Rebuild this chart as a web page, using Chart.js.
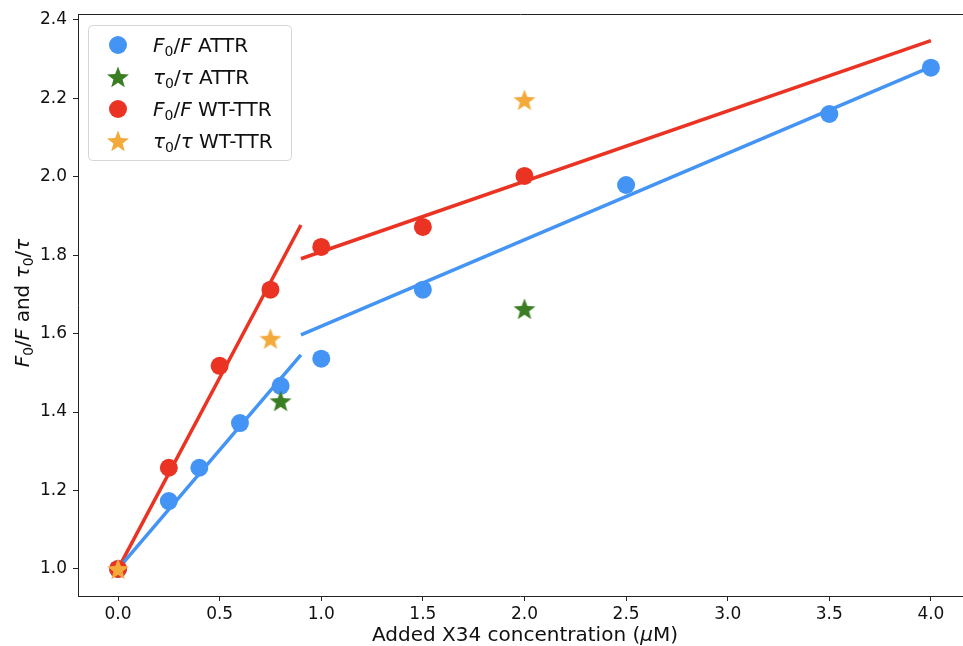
<!DOCTYPE html>
<html>
<head>
<meta charset="utf-8">
<script src="https://cdn.jsdelivr.net/npm/chart.js@4/dist/chart.umd.min.js"></script>
<style>
  html, body { margin: 0; padding: 0; background: #fff; }
  canvas { display: block; }
</style>
</head>
<body>
<canvas id="x34" width="963" height="646"></canvas>
<script>
// F0/F measurements
const attrFx = [0, 0.25, 0.4, 0.6, 0.8, 1.0, 1.5, 2.5, 3.5, 4.0];
const attrF = [1.0, 1.173, 1.258, 1.372, 1.467, 1.536, 1.712, 1.979, 2.160, 2.278];
const wtFx = [0, 0.25, 0.5, 0.75, 1.0, 1.5, 2.0];
const wtF = [1.0, 1.258, 1.518, 1.712, 1.821, 1.872, 2.002];

// tau0/tau measurements
const attrTauX = [0.8, 2.0];
const attrTau = [1.428, 1.663];
const wtTauX = [0, 0.75, 2.0];
const wtTau = [1.0, 1.587, 2.196];

// linear fits, low and high concentration regimes
const attrFitLowX = [0, 0.9];
const attrFitLow = [1.0, 1.546];
const attrFitHighX = [0.9, 4.0];
const attrFitHigh = [1.597, 2.28];
const wtFitLowX = [0, 0.9];
const wtFitLow = [1.0, 1.877];
const wtFitHighX = [0.9, 4.0];
const wtFitHigh = [1.791, 2.347];

const xTicks = [0, 0.5, 1, 1.5, 2, 2.5, 3, 3.5, 4];
const yTicks = [1.0, 1.2, 1.4, 1.6, 1.8, 2.0, 2.2, 2.4];

const BLUE = '#4494f5';
const RED = '#ea3323';
const GREEN = '#3a7d22';
const ORANGE = '#f4a93b';
const FONT = '"DejaVu Sans", sans-serif';

const pts = (xs, ys) => xs.map((x, i) => ({ x: x, y: ys[i] }));

function starPath(ctx, cx, cy, r) {
  const inner = r * 0.42;
  ctx.beginPath();
  for (let i = 0; i < 10; i++) {
    const rad = i % 2 ? inner : r;
    const a = -Math.PI / 2 + i * Math.PI / 5;
    const px = cx + rad * Math.cos(a), py = cy + rad * Math.sin(a);
    i ? ctx.lineTo(px, py) : ctx.moveTo(px, py);
  }
  ctx.closePath();
}

function starImage(color) {
  const c = document.createElement('canvas');
  c.width = 26; c.height = 26;
  const g = c.getContext('2d');
  starPath(g, 13, 14, 11.5);
  g.fillStyle = color;
  g.fill();
  return c;
}

// draw a run of text pieces: {t, it, sub}
function richText(ctx, parts, x, y, size, align) {
  const fontFor = p => (p.it ? 'italic ' : '') + (p.sub ? size * 0.7 : size) + 'px ' + FONT;
  let total = 0;
  parts.forEach(p => { ctx.font = fontFor(p); total += ctx.measureText(p.t).width; });
  let cx = align === 'center' ? x - total / 2 : x;
  ctx.textAlign = 'left';
  ctx.textBaseline = 'alphabetic';
  parts.forEach(p => {
    ctx.font = fontFor(p);
    ctx.fillText(p.t, cx, p.sub ? y + size * 0.22 : y);
    cx += ctx.measureText(p.t).width;
  });
}

const F0F = [{ t: 'F', it: true }, { t: '0', sub: true }, { t: '/' }, { t: 'F', it: true }];
const T0T = [{ t: 'τ', it: true }, { t: '0', sub: true }, { t: '/' }, { t: 'τ', it: true }];

const legendRows = [
  { marker: 'circle', color: BLUE, parts: F0F.concat([{ t: ' ATTR' }]) },
  { marker: 'star', color: GREEN, parts: T0T.concat([{ t: ' ATTR' }]) },
  { marker: 'circle', color: RED, parts: F0F.concat([{ t: ' WT-TTR' }]) },
  { marker: 'star', color: ORANGE, parts: T0T.concat([{ t: ' WT-TTR' }]) }
];

const decorations = {
  id: 'decorations',
  afterDraw(chart) {
    const ctx = chart.ctx;
    const a = chart.chartArea;
    ctx.save();
    // top spine
    ctx.strokeStyle = '#222';
    ctx.lineWidth = 1;
    ctx.beginPath();
    ctx.moveTo(a.left, a.top + 0.5);
    ctx.lineTo(a.right + 1, a.top + 0.5);
    ctx.stroke();

    // legend box
    const bx = 88, by = 25, bw = 203, bh = 135;
    ctx.beginPath();
    ctx.roundRect(bx + 0.5, by + 0.5, bw, bh, 4);
    ctx.fillStyle = 'rgba(255,255,255,0.85)';
    ctx.fill();
    ctx.strokeStyle = '#d6d6d6';
    ctx.stroke();
    legendRows.forEach((r, i) => {
      const cy = 45 + i * 32;
      ctx.fillStyle = r.color;
      if (r.marker === 'circle') {
        ctx.beginPath();
        ctx.arc(118, cy, 9, 0, Math.PI * 2);
        ctx.fill();
      } else {
        starPath(ctx, 118, cy + 1, 11.5);
        ctx.fill();
      }
      ctx.fillStyle = '#111';
      richText(ctx, r.parts, 153, cy + 7, 20);
    });

    // axis titles
    ctx.fillStyle = '#111';
    richText(ctx, [{ t: 'Added X34 concentration (' }, { t: 'μ', it: true }, { t: 'M)' }],
      525, 641, 20, 'center');
    ctx.translate(29, 303);
    ctx.rotate(-Math.PI / 2);
    richText(ctx, F0F.concat([{ t: ' and ' }], T0T), 0, 0, 20, 'center');
    ctx.restore();
  }
};

const scatter = (xs, ys, color, style, r, order) => ({
  data: pts(xs, ys),
  showLine: false,
  backgroundColor: color,
  borderColor: color,
  borderWidth: 0,
  pointStyle: style,
  pointRadius: r,
  pointHoverRadius: r,
  order: order
});
const fit = (xs, ys, color) => ({
  data: pts(xs, ys),
  showLine: true,
  borderColor: color,
  borderWidth: 3.5,
  pointRadius: 0,
  fill: false,
  order: 10
});

new Chart(document.getElementById('x34'), {
  type: 'scatter',
  data: {
    datasets: [
      scatter(wtTauX, wtTau, ORANGE, starImage(ORANGE), 11, 1),
      scatter(wtFx, wtF, RED, 'circle', 9, 2),
      scatter(attrTauX, attrTau, GREEN, starImage(GREEN), 11, 3),
      scatter(attrFx, attrF, BLUE, 'circle', 9, 4),
      fit(attrFitLowX, attrFitLow, BLUE),
      fit(attrFitHighX, attrFitHigh, BLUE),
      fit(wtFitLowX, wtFitLow, RED),
      fit(wtFitHighX, wtFitHigh, RED)
    ]
  },
  options: {
    responsive: false,
    animation: false,
    layout: { autoPadding: false, padding: { top: 14, right: 1, left: 0, bottom: 0 } },
    plugins: { legend: { display: false }, tooltip: { enabled: false } },
    scales: {
      x: {
        type: 'linear',
        min: -0.197,
        max: 4.153,
        afterFit: s => { s.height = 50; s.paddingLeft = 0; s.paddingRight = 0; },
        afterBuildTicks: s => { s.ticks = xTicks.map(v => ({ value: v })); },
        grid: { drawOnChartArea: false, drawTicks: true, tickLength: 5, color: '#222' },
        border: { display: true, color: '#222', width: 1 },
        ticks: {
          padding: 3,
          color: '#111',
          font: { family: FONT, size: 17 },
          callback: v => v.toFixed(1)
        }
      },
      y: {
        type: 'linear',
        min: 0.931,
        max: 2.415,
        afterFit: s => { s.width = 78; s.paddingTop = 0; s.paddingBottom = 0; },
        afterBuildTicks: s => { s.ticks = yTicks.map(v => ({ value: v })); },
        grid: { drawOnChartArea: false, drawTicks: true, tickLength: 5, color: '#222' },
        border: { display: true, color: '#222', width: 1 },
        ticks: {
          padding: 6,
          color: '#111',
          font: { family: FONT, size: 17 },
          callback: v => v.toFixed(1)
        }
      }
    }
  },
  plugins: [decorations]
});
</script>
</body>
</html>
